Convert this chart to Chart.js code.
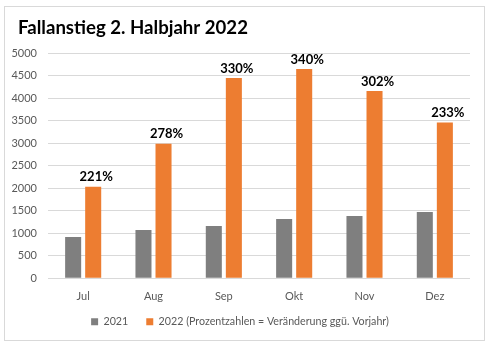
<!DOCTYPE html>
<html>
<head>
<meta charset="utf-8">
<script src="https://cdn.jsdelivr.net/npm/chart.js@4"></script>
<style>
  html, body { margin: 0; padding: 0; background: #ffffff; }
  canvas { display: block; }
</style>
</head>
<body>
<canvas id="c" width="497" height="352"></canvas>
<script>
const categories = ['Jul', 'Aug', 'Sep', 'Okt', 'Nov', 'Dez'];
const values2021 = [920, 1075, 1165, 1320, 1385, 1475];
const values2022 = [2035, 2990, 4450, 4650, 4160, 3460];
const changeLabels = ['221%', '278%', '330%', '340%', '302%', '233%'];
const seriesNames = ['2021', '2022 (Prozentzahlen = Veränderung ggü. Vorjahr)'];
const titleText = 'Fallanstieg 2. Halbjahr 2022';

const FONT = "Lato, 'Open Sans', sans-serif";

const borderPlugin = {
  id: 'outerBorder',
  afterLayout(chart) {
    if (chart.titleBlock) {
      chart.titleBlock.left = 18;
    }
    if (chart.legend) {
      chart.legend.top -= 7;
      chart.legend.bottom -= 7;
    }
  },
  beforeDraw(chart) {
    const ctx = chart.ctx;
    ctx.save();
    ctx.fillStyle = '#ffffff';
    ctx.fillRect(0, 0, chart.width, chart.height);
    ctx.strokeStyle = '#d9d9d9';
    ctx.lineWidth = 1;
    ctx.strokeRect(4.5, 6.5, 480, 334);
    ctx.restore();
  }
};

const labelPlugin = {
  id: 'barLabels',
  afterDatasetsDraw(chart) {
    const meta = chart.getDatasetMeta(1);
    const ctx = chart.ctx;
    ctx.save();
    ctx.font = "bold 13px " + FONT;
    ctx.fillStyle = '#000000';
    ctx.textAlign = 'center';
    ctx.textBaseline = 'bottom';
    meta.data.forEach((bar, i) => {
      ctx.fillText(changeLabels[i], bar.x + 3, bar.y - 3);
    });
    ctx.restore();
  }
};

new Chart(document.getElementById('c'), {
  type: 'bar',
  data: {
    labels: categories,
    datasets: [
      { label: seriesNames[0], data: values2021, backgroundColor: '#7f7f7f',
        categoryPercentage: 0.57, barPercentage: 0.8 },
      { label: seriesNames[1], data: values2022, backgroundColor: '#ed7d31',
        categoryPercentage: 0.57, barPercentage: 0.8 }
    ]
  },
  options: {
    responsive: false,
    animation: false,
    devicePixelRatio: 1,
    layout: { padding: { left: 10, right: 27, top: 13, bottom: 8 } },
    plugins: {
      title: {
        display: true,
        text: titleText,
        align: 'start',
        color: '#000000',
        font: { family: FONT, size: 18.6, weight: 'bold' },
        padding: { top: 4, bottom: 14 }
      },
      legend: {
        display: true,
        position: 'bottom',
        labels: {
          boxWidth: 7, boxHeight: 7,
          color: '#595959',
          font: { family: FONT, size: 10.7 },
          padding: 18
        }
      },
      tooltip: { enabled: false }
    },
    scales: {
      x: {
        grid: { display: false, drawTicks: false },
        border: { display: false },
        ticks: { color: '#595959', font: { family: FONT, size: 11 }, padding: 12 },
        afterFit(scale) { scale.height = 27; }
      },
      y: {
        min: 0, max: 5000,
        ticks: {
          stepSize: 500, color: '#595959', font: { family: FONT, size: 11 }, padding: 11,
          callback: (v) => String(v)
        },
        grid: { color: '#d9d9d9', drawTicks: false, lineWidth: 1 },
        border: { display: false },
        afterFit(scale) { scale.width = 38; }
      }
    }
  },
  plugins: [borderPlugin, labelPlugin]
});
</script>
</body>
</html>
